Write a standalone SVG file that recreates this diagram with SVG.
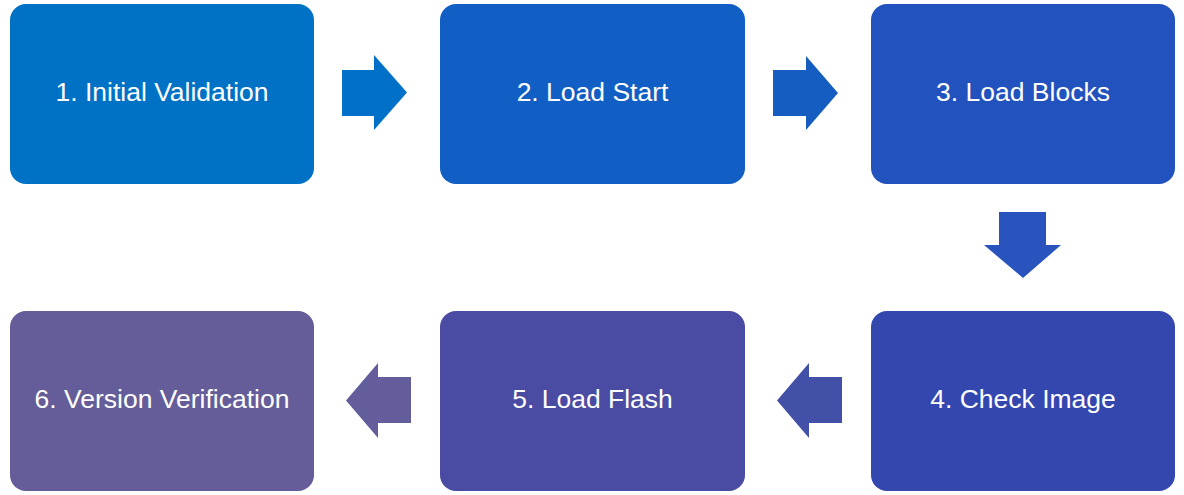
<svg xmlns="http://www.w3.org/2000/svg" width="1184" height="495" viewBox="0 0 1184 495">
<style>
.box{stroke:none}
.lbl{font-family:"Liberation Sans",Arial,sans-serif;font-size:26.5px;fill:#ffffff;text-anchor:middle}
</style>
<rect x="0" y="0" width="1184" height="495" fill="#ffffff"/>
<g id="node1"><rect class="box" x="10" y="4" width="304" height="180" rx="16" fill="#0072C6"/><text class="lbl" x="162" y="101">1. Initial Validation</text></g>
<g id="node2"><rect class="box" x="440" y="4" width="305" height="180" rx="16" fill="#115FC4"/><text class="lbl" x="592.5" y="101">2. Load Start</text></g>
<g id="node3"><rect class="box" x="871" y="4" width="304" height="180" rx="16" fill="#2252BD"/><text class="lbl" x="1023" y="101">3. Load Blocks</text></g>
<g id="node4"><rect class="box" x="871" y="311" width="304" height="180" rx="16" fill="#3447AF"/><text class="lbl" x="1023" y="408">4. Check Image</text></g>
<g id="node5"><rect class="box" x="440" y="311" width="305" height="180" rx="16" fill="#4A4BA3"/><text class="lbl" x="592.5" y="408">5. Load Flash</text></g>
<g id="node6"><rect class="box" x="10" y="311" width="304" height="180" rx="16" fill="#645D99"/><text class="lbl" x="162" y="408">6. Version Verification</text></g>
<g id="connectors">
<polygon points="342,70 374,70 374,55 407,92.5 374,130 374,116 342,116" fill="#0070C8"/>
<polygon points="773,70 806,70 806,56 838,93 806,130 806,116 773,116" fill="#155DC1"/>
<polygon points="999,212 1046,212 1046,245 1061,245 1023,278 984,245 999,245" fill="#2953BD"/>
<polygon points="842,377 809,377 809,363 777,400.5 809,438 809,423 842,423" fill="#4350A8"/>
<polygon points="411,377 378,377 378,363 346,400.5 378,438 378,423 411,423" fill="#635E9B"/>
</g>
</svg>
